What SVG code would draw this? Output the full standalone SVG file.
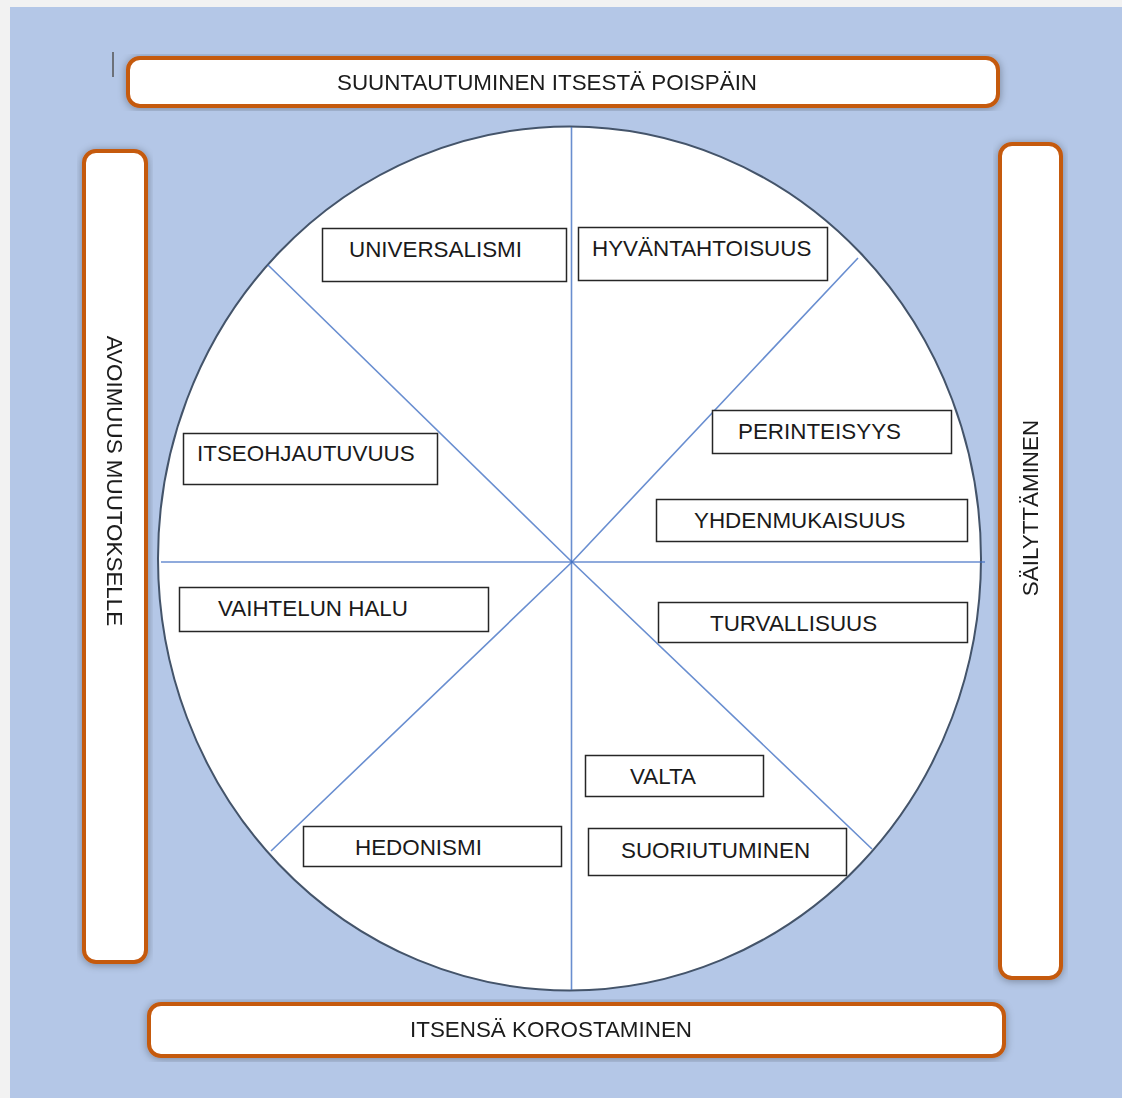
<svg xmlns="http://www.w3.org/2000/svg" width="1122" height="1098" viewBox="0 0 1122 1098">
<defs>
<filter id="sh" x="-10%" y="-10%" width="120%" height="120%">
<feGaussianBlur in="SourceAlpha" stdDeviation="4"/>
<feOffset dx="0" dy="1" result="b"/>
<feComponentTransfer><feFuncA type="linear" slope="0.35"/></feComponentTransfer>
<feMerge><feMergeNode/><feMergeNode in="SourceGraphic"/></feMerge>
</filter>
<style>
.bar{fill:#ffffff;stroke:#c55a11;stroke-width:4}
.box{fill:#ffffff;stroke:#262626;stroke-width:1.5}
.t{font-family:"Liberation Sans",Arial,sans-serif;font-size:22.4px;fill:#1a1a1a}
.div{stroke:#4472c4;stroke-width:1.6;opacity:0.8}
</style>
</defs>
<rect x="0" y="0" width="1122" height="1098" fill="#f2f2f2"/>
<rect x="10" y="7" width="1112" height="1091" fill="#b4c7e7"/>
<line x1="113" y1="52" x2="113" y2="77" stroke="#555" stroke-width="1.5"/>

<g id="top-bar" filter="url(#sh)">
<rect class="bar" x="128" y="58" width="870" height="48" rx="12"/>
<text class="t" x="547" y="90" text-anchor="middle">SUUNTAUTUMINEN ITSESTÄ POISPÄIN</text>
</g>
<g id="left-bar" filter="url(#sh)">
<rect class="bar" x="84" y="151" width="62" height="811" rx="12"/>
<text class="t" transform="translate(107,481) rotate(90)" text-anchor="middle">AVOIMUUS MUUTOKSELLE</text>
</g>
<g id="right-bar" filter="url(#sh)">
<rect class="bar" x="1000" y="144" width="61" height="834" rx="12"/>
<text class="t" transform="translate(1038,508) rotate(-90)" text-anchor="middle">SÄILYTTÄMINEN</text>
</g>
<g id="bottom-bar" filter="url(#sh)">
<rect class="bar" x="149" y="1004" width="855" height="52" rx="12"/>
<text class="t" x="551" y="1037" text-anchor="middle">ITSENSÄ KOROSTAMINEN</text>
</g>

<g id="circle">
<ellipse cx="569.5" cy="558.5" rx="411.5" ry="432" fill="#ffffff" stroke="#44546a" stroke-width="2"/>
</g>
<g id="connectors">
<line class="div" x1="571.5" y1="127" x2="571.5" y2="990"/>
<line class="div" x1="161" y1="562" x2="985" y2="562"/>
<path class="div" fill="none" d="M268,265 L572,562 L872,849"/>
<path class="div" fill="none" d="M858,258 L572,562 L271,851"/>
</g>

<g id="universalismi"><rect class="box" x="322.5" y="228.5" width="244" height="53"/><text class="t" x="349" y="257">UNIVERSALISMI</text></g>
<g id="hyvantahtoisuus"><rect class="box" x="578.5" y="227.5" width="249" height="53"/><text class="t" x="592" y="256">HYVÄNTAHTOISUUS</text></g>
<g id="perinteisyys"><rect class="box" x="712.5" y="410.5" width="239" height="43"/><text class="t" x="738" y="439">PERINTEISYYS</text></g>
<g id="yhdenmukaisuus"><rect class="box" x="656.5" y="499.5" width="311" height="42"/><text class="t" x="694" y="528">YHDENMUKAISUUS</text></g>
<g id="turvallisuus"><rect class="box" x="658.5" y="602.5" width="309" height="40"/><text class="t" x="710" y="631">TURVALLISUUS</text></g>
<g id="itseohjautuvuus"><rect class="box" x="183.5" y="433.5" width="254" height="51"/><text class="t" x="197" y="461">ITSEOHJAUTUVUUS</text></g>
<g id="vaihtelun-halu"><rect class="box" x="179.5" y="587.5" width="309" height="44"/><text class="t" x="218" y="616">VAIHTELUN HALU</text></g>
<g id="valta"><rect class="box" x="585.5" y="755.5" width="178" height="41"/><text class="t" x="630" y="784">VALTA</text></g>
<g id="suoriutuminen"><rect class="box" x="588.5" y="828.5" width="258" height="47"/><text class="t" x="621" y="858">SUORIUTUMINEN</text></g>
<g id="hedonismi"><rect class="box" x="303.5" y="826.5" width="258" height="40"/><text class="t" x="355" y="855">HEDONISMI</text></g>
</svg>
